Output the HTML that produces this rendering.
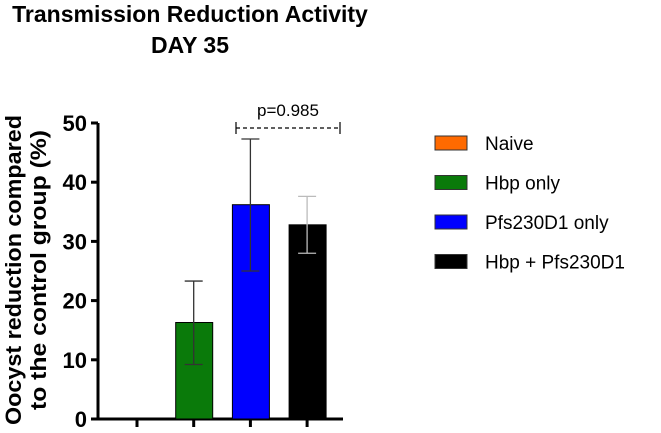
<!DOCTYPE html>
<html><head><meta charset="utf-8"><style>
body{margin:0;background:#fff;}
svg{display:block;font-family:"Liberation Sans",Arial,sans-serif;}
</style></head><body>
<svg id="chart" width="661" height="433">
<text x="190" y="22" text-anchor="middle" font-size="23" font-weight="bold">Transmission Reduction Activity</text>
<text x="190" y="53" text-anchor="middle" font-size="23" font-weight="bold">DAY 35</text>
<text transform="translate(21,270) rotate(-90)" text-anchor="middle" font-size="22" font-weight="bold"><tspan x="0" dy="0" textLength="310" lengthAdjust="spacingAndGlyphs">Oocyst reduction compared</tspan><tspan x="0" dy="25" textLength="280" lengthAdjust="spacingAndGlyphs">to the control group (%)</tspan></text>
<g id="plot"></g>
</svg>
<script>
const categories=["Naive","Hbp only","Pfs230D1 only","Hbp + Pfs230D1"];
const values=[0,16.3,36.2,32.8];
const errLow=[0,9.2,25.0,28.0];
const errHigh=[0,23.3,47.3,37.6];
const colors=["#ff6a00","#0a7a0a","#0000ff","#000000"];
const yTicks=[0,10,20,30,40,50];
const NS="http://www.w3.org/2000/svg";
const g=document.getElementById('plot');
const y0=419,yTop=123,xAxis=98;
function y(v){return y0-(v/50)*(y0-yTop);}
function xc(i){return 137+i*56.7;}
function mk(t,a){const e=document.createElementNS(NS,t);for(const k in a)e.setAttribute(k,a[k]);g.appendChild(e);return e;}
let e;
e=mk('line',{x1:xAxis,y1:y(50),x2:xAxis,y2:y0+1,stroke:'#000','stroke-width':3});


e=mk('line',{x1:xAxis-1,y1:y0,x2:343,y2:y0,stroke:'#000','stroke-width':3});


yTicks.forEach(v=>{
 e=mk('line',{x1:xAxis-7,y1:y(v),x2:xAxis,y2:y(v),stroke:'#000','stroke-width':3});
 
 
 e=mk('text',{x:xAxis-11,y:y(v)+8,'text-anchor':'end','font-size':22,'font-weight':'bold'});
 e.textContent=v;
 
 
});
categories.forEach((c,i)=>{
 e=mk('line',{x1:xc(i),y1:y0,x2:xc(i),y2:y0+8,stroke:'#000','stroke-width':3});
 
 
 if(values[i]>0){
  e=mk('rect',{x:xc(i)-18,y:y(values[i]),width:37,height:y0-y(values[i]),fill:colors[i],stroke:'#000','stroke-width':1});
  
  
  const ec=i===3?'#bbb':'#333';
  e=mk('path',{d:`M${xc(i)} ${y(errHigh[i])}V${y(errLow[i])}M${xc(i)-9} ${y(errHigh[i])}H${xc(i)+9}M${xc(i)-9} ${y(errLow[i])}H${xc(i)+9}`,stroke:ec,'stroke-width':1.3,fill:'none'});
  
  
 }
 const ly=143+i*39.5;
 e=mk('rect',{x:435,y:ly-7,width:32,height:14,fill:colors[i],stroke:'#333','stroke-width':1});
 
 
 e=mk('text',{x:485,y:ly+7,'font-size':19});
 e.textContent=c;
 
 
});
e=mk('path',{d:'M236 122V134M340 122V134',stroke:'#000','stroke-width':1.2,fill:'none'});


e=mk('line',{x1:236,y1:128,x2:340,y2:128,stroke:'#000','stroke-width':1.2,'stroke-dasharray':'4,3'});


e=mk('text',{x:288,y:116,'text-anchor':'middle','font-size':17});
e.textContent='p=0.985';


</script>
</body></html>
